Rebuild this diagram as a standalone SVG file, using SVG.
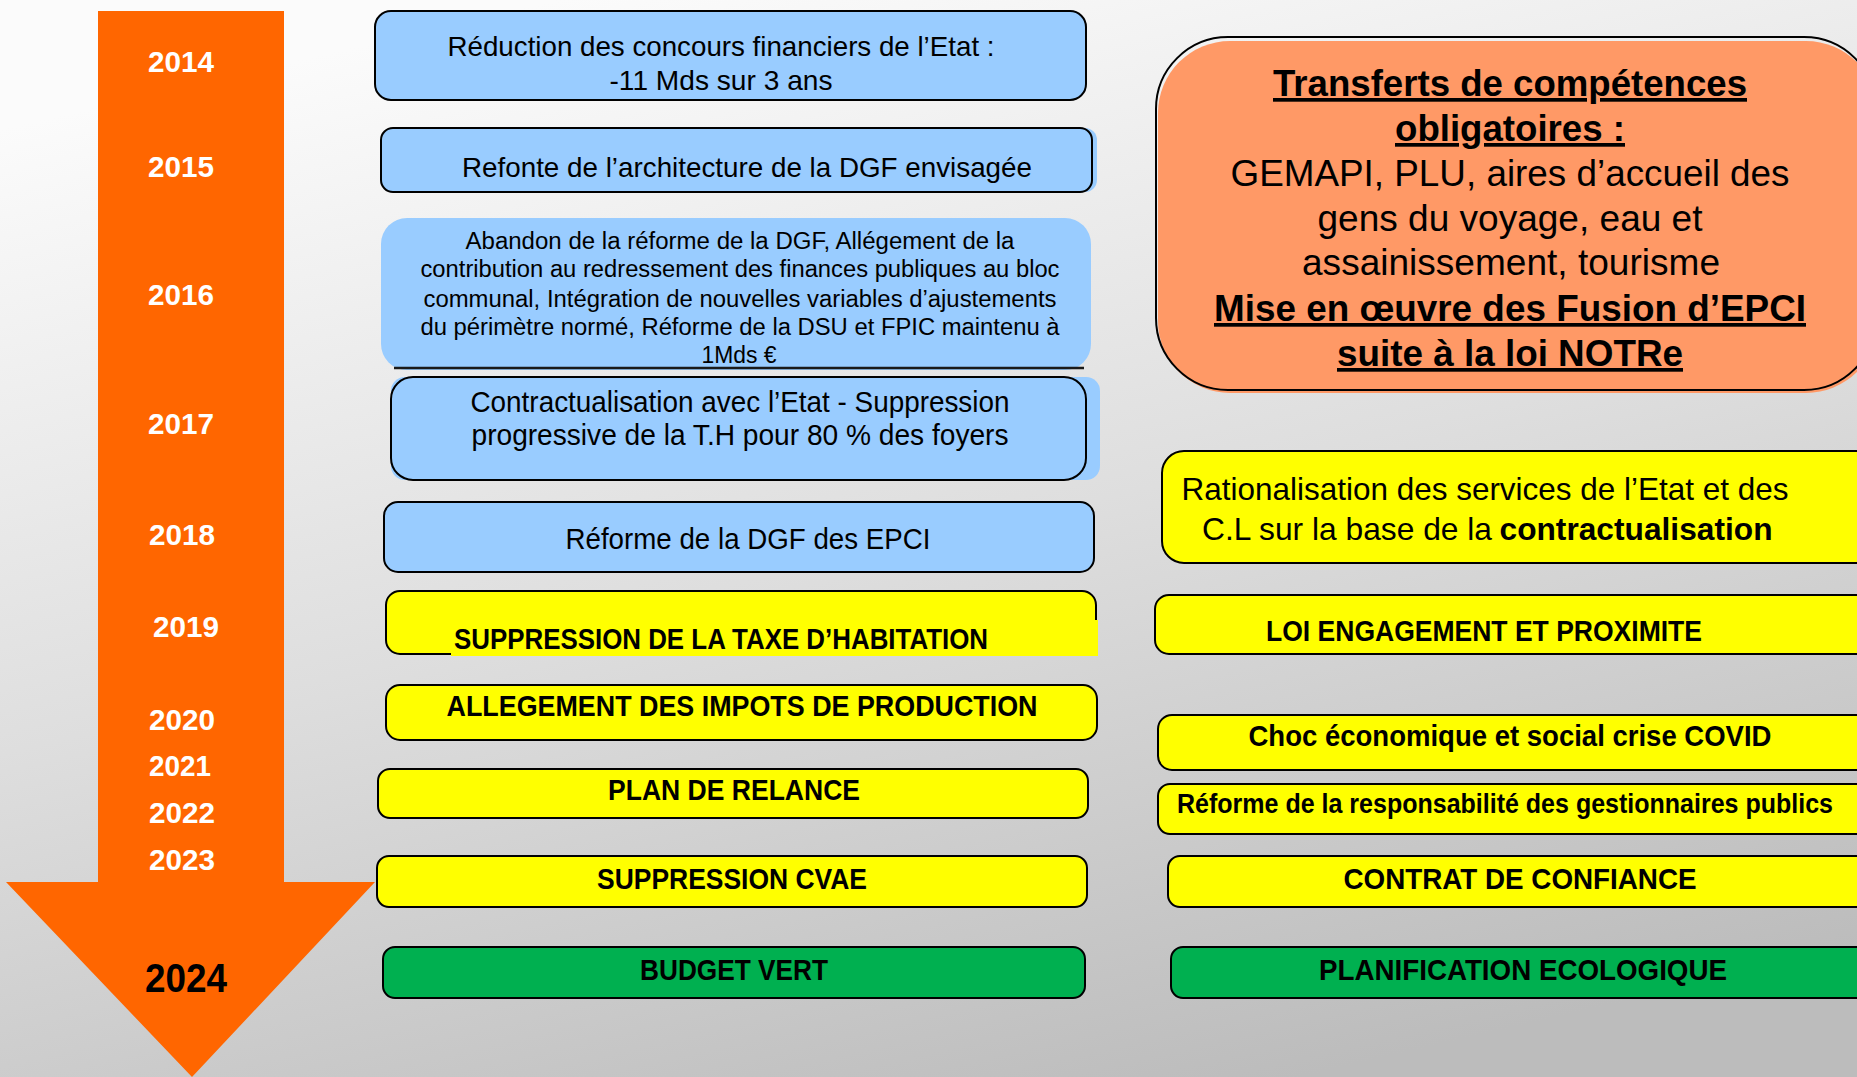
<svg xmlns="http://www.w3.org/2000/svg" width="1857" height="1077" viewBox="0 0 1857 1077">
<defs>
<linearGradient id="bg" x1="0.3" y1="0" x2="0.7" y2="1">
<stop offset="0" stop-color="#fbfbfb"/>
<stop offset="0.5" stop-color="#dedede"/>
<stop offset="1" stop-color="#bcbcbc"/>
</linearGradient>
<style>
.box{stroke:#000;stroke-width:2}
.blue{fill:#99ccff}
.yel{fill:#ffff00}
.grn{fill:#00b050}
.org{fill:#ff9966}
.t{font-family:"Liberation Sans",Arial,sans-serif;fill:#000;text-anchor:middle}
.b{font-weight:bold}
.yr{font-family:"Liberation Sans",Arial,sans-serif;font-weight:bold;fill:#fff;text-anchor:middle;font-size:29px}
</style>
</defs>
<rect width="1857" height="1077" fill="url(#bg)"/>

<g id="timeline-arrow">
<polygon points="98,11 284,11 284,882 375,882 192,1077 6,882 98,882" fill="#ff6600"/>
<text class="yr" x="181" y="72" textLength="66" lengthAdjust="spacingAndGlyphs">2014</text>
<text class="yr" x="181" y="177" textLength="66" lengthAdjust="spacingAndGlyphs">2015</text>
<text class="yr" x="181" y="305" textLength="66" lengthAdjust="spacingAndGlyphs">2016</text>
<text class="yr" x="181" y="434" textLength="66" lengthAdjust="spacingAndGlyphs">2017</text>
<text class="yr" x="182" y="545" textLength="66" lengthAdjust="spacingAndGlyphs">2018</text>
<text class="yr" x="186" y="637" textLength="66" lengthAdjust="spacingAndGlyphs">2019</text>
<text class="yr" x="182" y="730" textLength="66" lengthAdjust="spacingAndGlyphs">2020</text>
<text class="yr" x="180" y="776" textLength="62" lengthAdjust="spacingAndGlyphs">2021</text>
<text class="yr" x="182" y="823" textLength="66" lengthAdjust="spacingAndGlyphs">2022</text>
<text class="yr" x="182" y="870" textLength="66" lengthAdjust="spacingAndGlyphs">2023</text>
<text class="yr" x="186" y="992" style="fill:#000;font-size:40px" textLength="82" lengthAdjust="spacingAndGlyphs">2024</text>
</g>

<g id="n2014">
<rect class="box blue" x="375" y="11" width="711" height="89" rx="16"/>
<text class="t" x="721" y="56" font-size="28" textLength="547" lengthAdjust="spacingAndGlyphs">Réduction des concours financiers de l’Etat :</text>
<text class="t" x="721" y="90" font-size="28" textLength="223" lengthAdjust="spacingAndGlyphs">-11 Mds sur 3 ans</text>
</g>

<g id="n2015">
<rect class="blue" x="381" y="128" width="716" height="64" rx="12"/>
<rect class="box" fill="none" x="381" y="128" width="711" height="64" rx="12"/>
<text class="t" x="747" y="177" font-size="28" textLength="570" lengthAdjust="spacingAndGlyphs">Refonte de l’architecture de la DGF envisagée</text>
</g>

<g id="n2016">
<rect class="blue" x="381" y="218" width="710" height="152" rx="26"/>
<line x1="394" y1="368" x2="1084" y2="368" stroke="#1a1a1a" stroke-width="2.5"/>
<text class="t" x="740" y="249" font-size="23" textLength="549" lengthAdjust="spacingAndGlyphs">Abandon de la réforme de la DGF, Allégement de la</text>
<text class="t" x="740" y="277" font-size="23" textLength="639" lengthAdjust="spacingAndGlyphs">contribution au redressement des finances publiques au bloc</text>
<text class="t" x="740" y="307" font-size="23" textLength="633" lengthAdjust="spacingAndGlyphs">communal, Intégration de nouvelles variables d’ajustements</text>
<text class="t" x="740" y="335" font-size="23" textLength="639" lengthAdjust="spacingAndGlyphs">du périmètre normé, Réforme de la DSU et FPIC maintenu à</text>
<text class="t" x="739" y="363" font-size="23" textLength="75" lengthAdjust="spacingAndGlyphs">1Mds €</text>
</g>

<g id="n2017">
<rect class="blue" x="391" y="377" width="709" height="103" rx="14"/>
<rect class="box" fill="none" x="391" y="377" width="695" height="103" rx="22"/>
<text class="t" x="740" y="412" font-size="29" textLength="539" lengthAdjust="spacingAndGlyphs">Contractualisation avec l’Etat - Suppression</text>
<text class="t" x="740" y="445" font-size="29" textLength="537" lengthAdjust="spacingAndGlyphs">progressive de la T.H pour 80 % des foyers</text>
</g>

<g id="n2018">
<rect class="box blue" x="384" y="502" width="710" height="70" rx="14"/>
<text class="t" x="748" y="549" font-size="29" textLength="365" lengthAdjust="spacingAndGlyphs">Réforme de la DGF des EPCI</text>
</g>

<g id="n2019">
<rect class="box yel" x="386" y="591" width="710" height="63" rx="14"/>
<rect class="yel" x="451" y="620" width="647" height="36"/>
<text class="t b" x="721" y="649" font-size="29" textLength="534" lengthAdjust="spacingAndGlyphs">SUPPRESSION DE LA TAXE D’HABITATION</text>
</g>

<g id="n2020">
<rect class="box yel" x="386" y="685" width="711" height="55" rx="14"/>
<text class="t b" x="742" y="716" font-size="30" textLength="591" lengthAdjust="spacingAndGlyphs">ALLEGEMENT DES IMPOTS DE PRODUCTION</text>
</g>

<g id="n2021">
<rect class="box yel" x="378" y="769" width="710" height="49" rx="12"/>
<text class="t b" x="734" y="800" font-size="30" textLength="252" lengthAdjust="spacingAndGlyphs">PLAN DE RELANCE</text>
</g>

<g id="n2023">
<rect class="box yel" x="377" y="856" width="710" height="51" rx="12"/>
<text class="t b" x="732" y="889" font-size="30" textLength="270" lengthAdjust="spacingAndGlyphs">SUPPRESSION CVAE</text>
</g>

<g id="n2024">
<rect class="box grn" x="383" y="947" width="702" height="51" rx="12"/>
<text class="t b" x="734" y="980" font-size="30" textLength="188" lengthAdjust="spacingAndGlyphs">BUDGET VERT</text>
</g>

<g id="transferts">
<rect class="org" x="1158" y="41" width="720" height="352" rx="72"/>
<rect fill="none" stroke="#000" stroke-width="2" x="1156" y="37" width="720" height="353" rx="72"/>
<text class="t b" x="1510" y="96" font-size="37" text-decoration="underline" textLength="474" lengthAdjust="spacingAndGlyphs">Transferts de compétences</text>
<text class="t b" x="1510" y="141" font-size="37" text-decoration="underline" textLength="230" lengthAdjust="spacingAndGlyphs">obligatoires :</text>
<text class="t" x="1510" y="186" font-size="37" textLength="559" lengthAdjust="spacingAndGlyphs">GEMAPI, PLU, aires d’accueil des</text>
<text class="t" x="1510" y="231" font-size="37" textLength="385" lengthAdjust="spacingAndGlyphs">gens du voyage, eau et</text>
<text class="t" x="1511" y="275" font-size="37" textLength="418" lengthAdjust="spacingAndGlyphs">assainissement, tourisme</text>
<text class="t b" x="1510" y="321" font-size="37" text-decoration="underline" textLength="592" lengthAdjust="spacingAndGlyphs">Mise en œuvre des Fusion d’EPCI</text>
<text class="t b" x="1510" y="366" font-size="37" text-decoration="underline" textLength="346" lengthAdjust="spacingAndGlyphs">suite à la loi NOTRe</text>
</g>

<g id="rationalisation">
<rect class="box yel" x="1162" y="451" width="715" height="112" rx="22"/>
<text class="t" x="1485" y="500" font-size="32" textLength="607" lengthAdjust="spacingAndGlyphs">Rationalisation des services de l’Etat et des</text>
<text class="t" x="1347" y="540" font-size="32" textLength="290" lengthAdjust="spacingAndGlyphs">C.L sur la base de la</text>
<text class="t b" x="1636" y="540" font-size="32" textLength="273" lengthAdjust="spacingAndGlyphs">contractualisation</text>
</g>

<g id="loi-engagement">
<rect class="box yel" x="1155" y="595" width="718" height="59" rx="14"/>
<text class="t b" x="1484" y="641" font-size="29" textLength="436" lengthAdjust="spacingAndGlyphs">LOI ENGAGEMENT ET PROXIMITE</text>
</g>

<g id="choc-covid">
<rect class="box yel" x="1158" y="715" width="715" height="55" rx="14"/>
<text class="t b" x="1510" y="746" font-size="30" textLength="523" lengthAdjust="spacingAndGlyphs">Choc économique et social crise COVID</text>
</g>

<g id="reforme-responsabilite">
<rect class="box yel" x="1158" y="784" width="715" height="50" rx="12"/>
<text class="t b" x="1505" y="813" font-size="27" textLength="656" lengthAdjust="spacingAndGlyphs">Réforme de la responsabilité des gestionnaires publics</text>
</g>

<g id="contrat-confiance">
<rect class="box yel" x="1168" y="856" width="705" height="51" rx="12"/>
<text class="t b" x="1520" y="889" font-size="30" textLength="353" lengthAdjust="spacingAndGlyphs">CONTRAT DE CONFIANCE</text>
</g>

<g id="planification">
<rect class="box grn" x="1171" y="947" width="702" height="51" rx="12"/>
<text class="t b" x="1523" y="980" font-size="30" textLength="408" lengthAdjust="spacingAndGlyphs">PLANIFICATION ECOLOGIQUE</text>
</g>

<g id="connectors"></g>
</svg>
